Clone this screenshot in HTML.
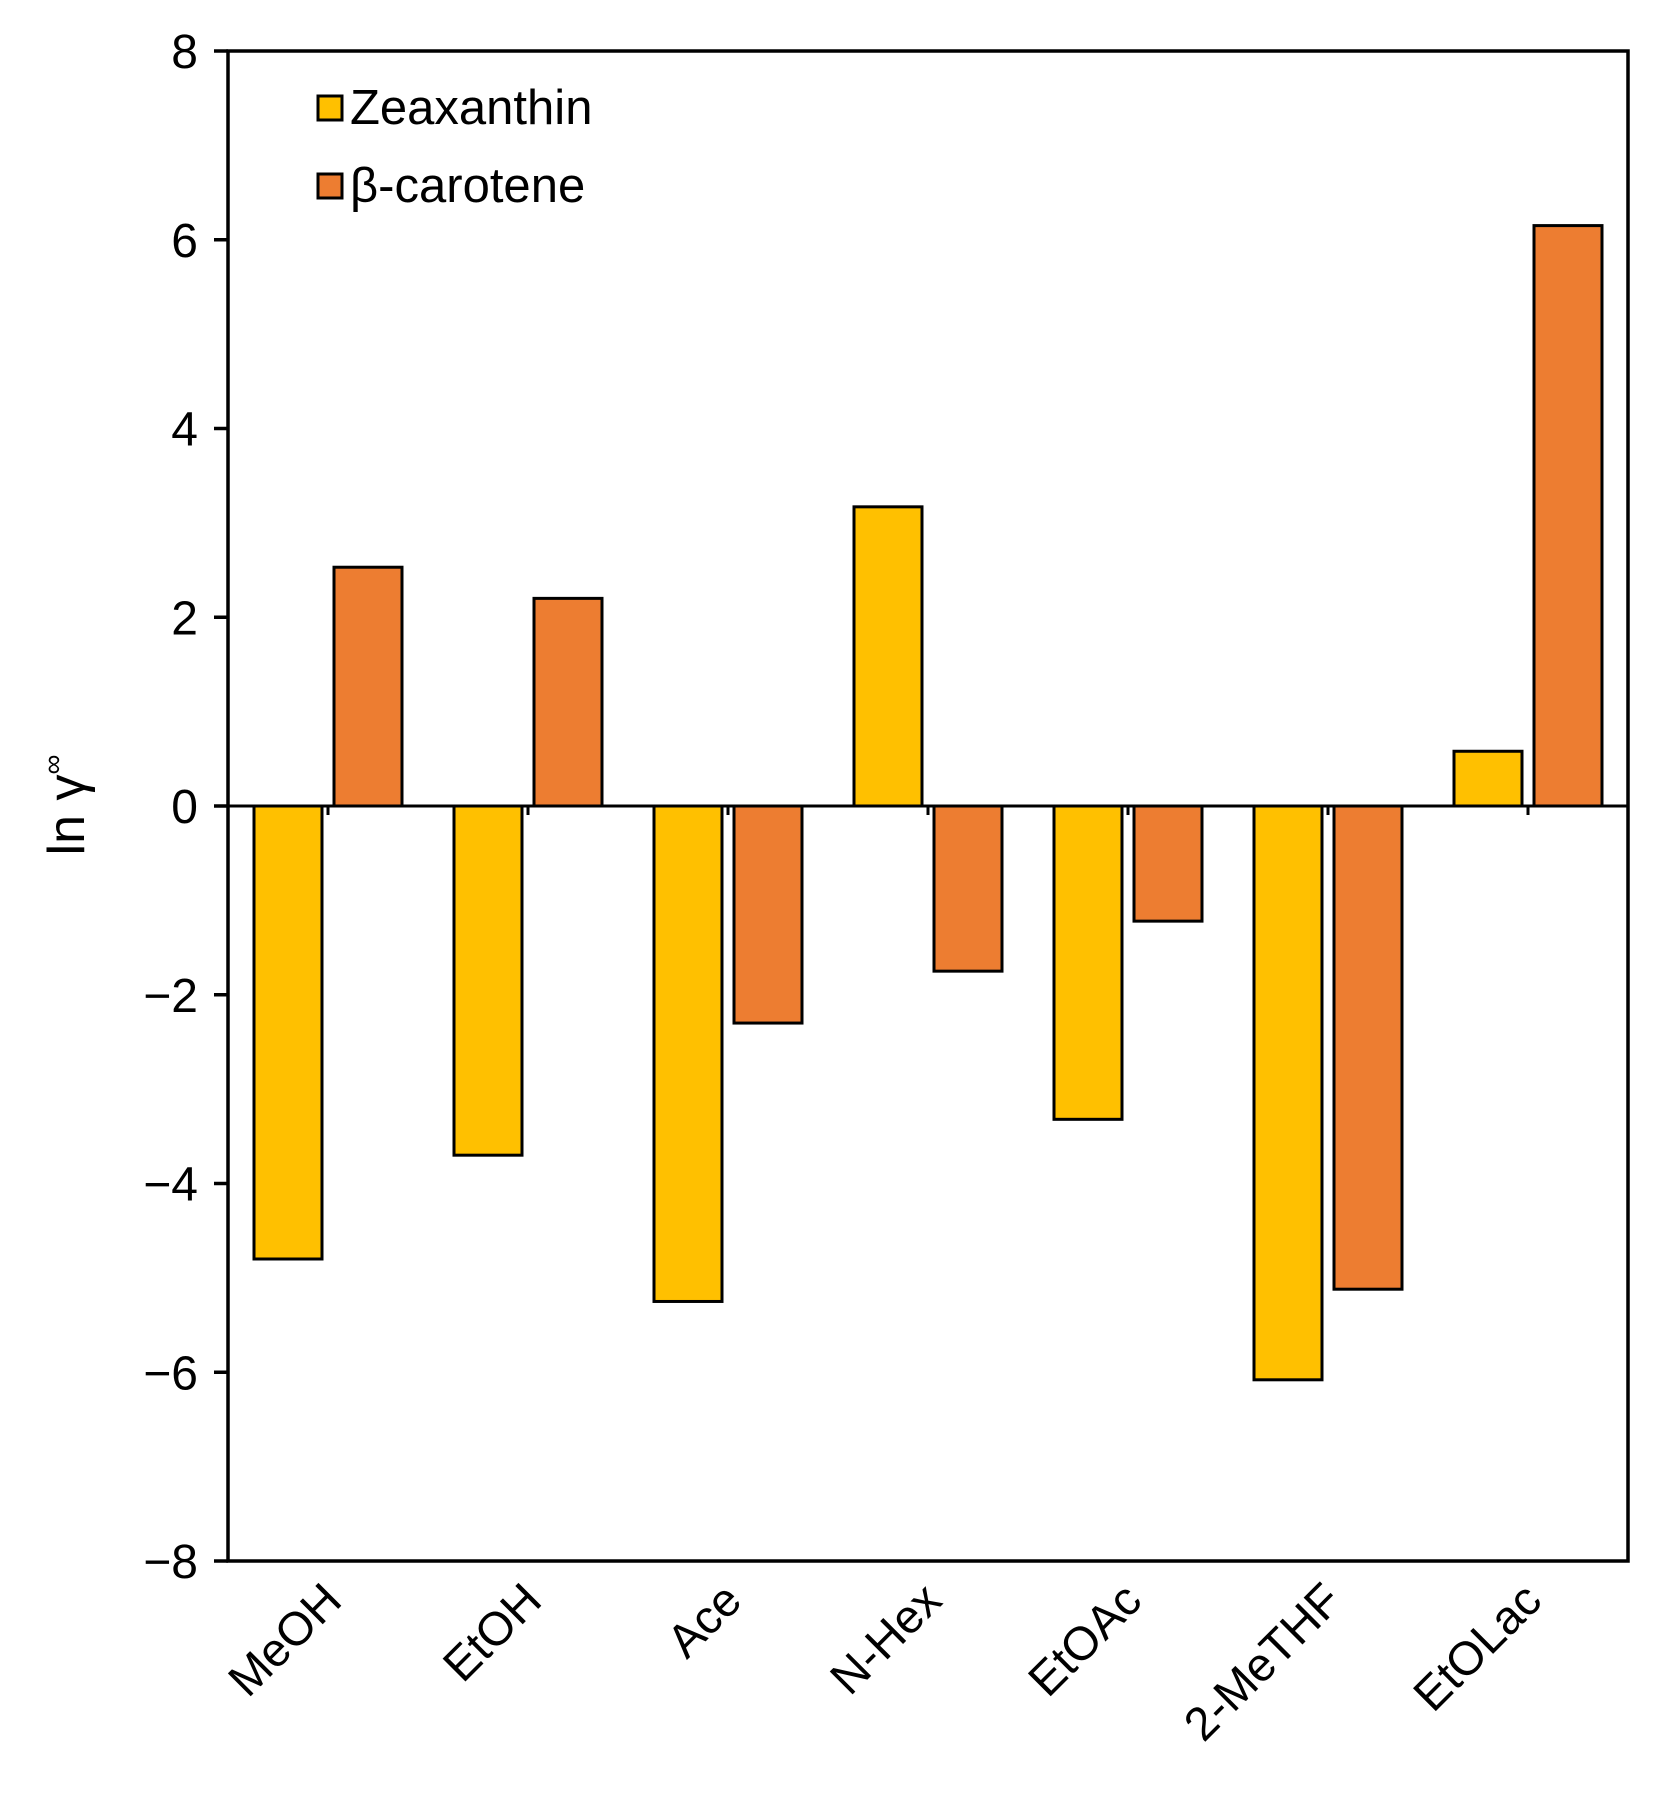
<!DOCTYPE html>
<html><head><meta charset="utf-8"><style>
html,body{margin:0;padding:0;background:#fff;}
svg{display:block;font-family:"Liberation Sans",sans-serif;}
</style></head><body>
<svg id="chart" width="1659" height="1800" viewBox="0 0 1659 1800" xmlns="http://www.w3.org/2000/svg">
<g id="bars"></g>
<g id="axes"></g>
<text transform="translate(84,805) rotate(-90)" text-anchor="middle" font-size="52" fill="#000">ln γ<tspan font-size="28" dy="-22">∞</tspan></text>
<g>
<g>
<rect x="318" y="96" width="24" height="24" fill="#FFC000" stroke="#000" stroke-width="3"/>
<text x="350" y="124" font-size="49" fill="#000">Zeaxanthin</text></g>
<g>
<rect x="318" y="174" width="24" height="24" fill="#ED7D31" stroke="#000" stroke-width="3"/>
<text x="350" y="202" font-size="49" fill="#000">β-carotene</text></g>
</g>
</svg>
<script>
const categories=["MeOH","EtOH","Ace","N-Hex","EtOAc","2-MeTHF","EtOLac"];
const zeaxanthin=[-4.8,-3.7,-5.25,3.17,-3.32,-6.08,0.58];
const betaCarotene=[2.53,2.2,-2.3,-1.75,-1.22,-5.12,6.15];
const yTicks=[8,6,4,2,0,-2,-4,-6,-8];
const yTickLabels=["8","6","4","2","0","\u22122","\u22124","\u22126","\u22128"];
const L=228,R=1628,T=51,B=1561,ymin=-8,ymax=8;
const NS="http://www.w3.org/2000/svg";
function y(v){return T+(ymax-v)/(ymax-ymin)*(B-T);}
const cw=(R-L)/categories.length;
function xc(i){return L+cw*(i+0.5);}
const bw=cw*0.34, gap=cw*0.06;
const bars=document.getElementById('bars'), axes=document.getElementById('axes');
function mk(tag,attrs,parent){const e=document.createElementNS(NS,tag);for(const k in attrs)e.setAttribute(k,attrs[k]);parent.appendChild(e);return e;}
function bar(v,x,color,name){
  const y0=y(0),y1=y(v);
  const r=mk('rect',{x:x,y:Math.min(y0,y1),width:bw,height:Math.abs(y1-y0),fill:color,stroke:'#000','stroke-width':3},bars);
  
  
}
categories.forEach((c,i)=>{
  const cx=xc(i);
  bar(zeaxanthin[i],cx-gap/2-bw,'#FFC000','bar-zeaxanthin-'+c.toLowerCase());
  bar(betaCarotene[i],cx+gap/2,'#ED7D31','bar-beta-carotene-'+c.toLowerCase());
  const t=mk('line',{x1:cx,x2:cx,y1:y(0),y2:y(0)+9,stroke:'#000','stroke-width':3},axes);
  
  
  const lb=mk('text',{transform:`translate(${cx+16},${B+42}) rotate(-45)`,'text-anchor':'end','font-size':47,fill:'#000'},axes);
  lb.textContent=c;
  
  
});
const frame=mk('rect',{x:L,y:T,width:R-L,height:B-T,fill:'none',stroke:'#000','stroke-width':3.5},axes);


const zl=mk('line',{x1:L,x2:R,y1:y(0),y2:y(0),stroke:'#000','stroke-width':3},axes);


yTicks.forEach((v,i)=>{
  const t=mk('line',{x1:L-14,x2:L,y1:y(v),y2:y(v),stroke:'#000','stroke-width':3.5},axes);
  
  
  const lb=mk('text',{x:L-30,y:y(v)+17,'text-anchor':'end','font-size':48,fill:'#000'},axes);
  lb.textContent=yTickLabels[i];
  
  
});
</script>
</body></html>
